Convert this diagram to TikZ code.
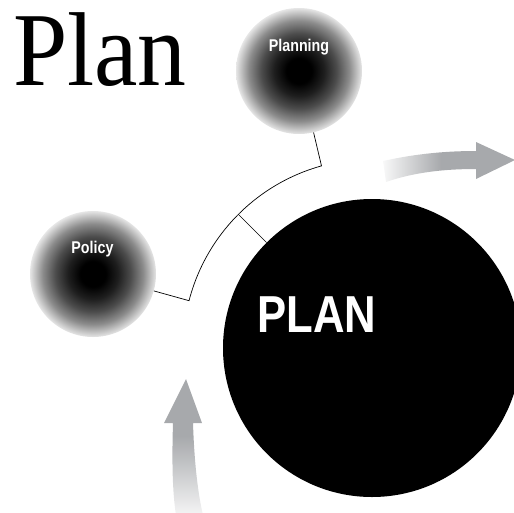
\documentclass[tikz,border=0pt]{standalone}
\usepackage{fontspec}
\setmainfont{Liberation Serif}
\newfontfamily\titleserif[FakeStretch=0.93]{Liberation Serif}
\newfontfamily\condsans[FakeStretch=0.84]{Liberation Sans Bold}
\usetikzlibrary{calc}

\definecolor{arrowgray}{RGB}{167,169,172}
\pgfdeclareradialshading{sphereglow}{\pgfpoint{0bp}{0bp}}{color(0bp)=(black); color(5bp)=(black); color(10bp)=(black!88); color(15bp)=(black!70); color(20bp)=(black!45); color(23bp)=(black!24); color(25bp)=(black!10); color(50bp)=(white)}
\pgfdeclarehorizontalshading{faderight}{100bp}{color(0bp)=(white); color(25bp)=(white!92!arrowgray); color(47bp)=(arrowgray); color(100bp)=(arrowgray)}
\pgfdeclareverticalshading{fadeup}{100bp}{color(0bp)=(white); color(25bp)=(white!88!arrowgray); color(54bp)=(arrowgray); color(100bp)=(arrowgray)}

\tikzset{
  sphere/.style={circle, minimum size=126pt, inner sep=0pt, shade, shading=sphereglow},
  sphere label/.style={anchor=base, text=white, font=\condsans\fontsize{17}{17}\selectfont},
  bracket/.style={line width=0.7pt},
}

\begin{document}
\begin{tikzpicture}[x=1pt,y=-1pt]
        \useasboundingbox (0,0) rectangle (514,512);
        \clip (0,0) rectangle (514,512);

        % title
        \node [anchor=base west, inner sep=0pt, font=\titleserif\fontsize{105}{105}\selectfont] (title) at (13,85) {Plan};

        % fading arrows
        \shade [shading=faderight] (383,161) .. controls (410,155) and (440,151) .. (476,151) -- (476,142) -- (515,160) -- (476,179) -- (476,169) .. controls (445,169) and (415,172) .. (386,182) -- cycle;
        \shade [shading=fadeup] (186,379) -- (202,423) -- (193,423) .. controls (194,455) and (197,490) .. (203,515) -- (176,515) .. controls (172,490) and (172,455) .. (173,423) -- (164,423) -- cycle;

        % circles
        \node [sphere] (planning) at (299,71) {};
        \node [sphere] (policy) at (93,274) {};
        \node [circle, fill=black, minimum size=298pt, inner sep=0pt] (plan) at (372,348) {};

        \node [sphere label] at (299,51) {Planning};
        \node [sphere label] at (92.5,253) {Policy};
        \node [anchor=base, text=white, font=\condsans\fontsize{52}{52}\selectfont] at (317,332) {PLAN};

        % bracket
        \coordinate (bpol) at ($(plan.center)+(165.5:189pt)$);
        \coordinate (bmid) at ($(plan.center)+(135:189pt)$);
        \draw [bracket] (policy) -- (bpol) arc [start angle=165.5, end angle=105.5, radius=189pt] -- (planning);
        \draw [bracket] (bmid) -- (plan);
\end{tikzpicture}
\end{document}
